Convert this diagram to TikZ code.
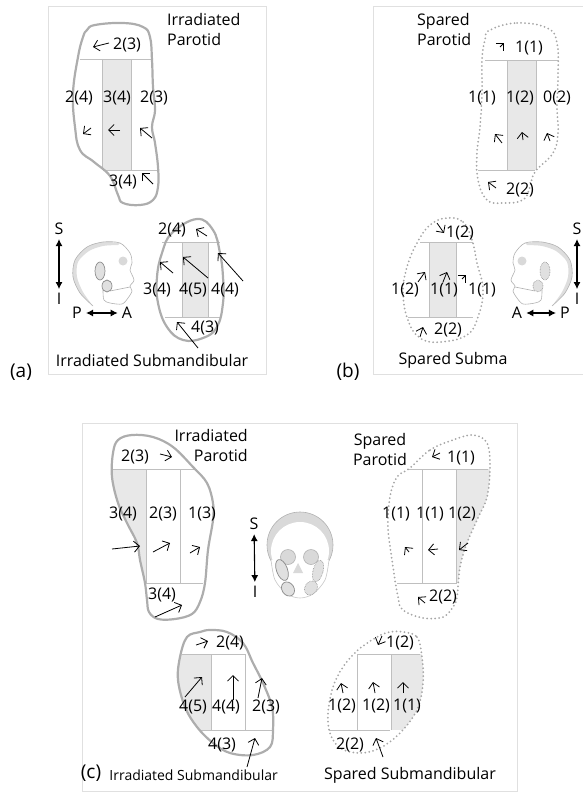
\documentclass[tikz,border=0pt]{standalone}
\usepackage{fontspec}
\setmainfont{Open Sans}
\usetikzlibrary{arrows.meta}

\tikzset{
  frame/.style={draw=black!12, line width=0.6pt},
  gland/.style={draw=black!32, line width=2.2pt},
  spared/.style={draw=black!35, line width=2pt, dash pattern=on 0pt off 4pt, line cap=round},
  grid/.style={draw=black!25, line width=0.9pt},
  shade/.style={fill=black!9},
  vec/.style={->, line width=0.8pt},
  axis/.style={{Latex[length=7pt,width=7pt]}-{Latex[length=7pt,width=7pt]}, line width=1.1pt, shorten >=3pt, shorten <=3pt},
  sgland/.style={draw=black!45, fill=black!12, line width=0.7pt},
  sspared/.style={draw=black!40, fill=black!12, line width=0.9pt, dash pattern=on 0pt off 1.6pt, line cap=round},
  bone/.style={draw=black!30, line width=0.6pt},
}

% skull seen from the side, facing right; #1 = style of the glands
\newcommand{\sideskull}[1]{%
  \fill[black!13] plot[smooth] coordinates {(93,306) (80,293) (73,277) (75,260) (87,247) (103,242) (120,243)}
    -- plot[smooth] coordinates {(118,245) (103,246) (89,251) (78,262) (77,277) (83,292) (93,306)} -- cycle;
  \draw[bone] plot[smooth] coordinates {(93,306) (80,293) (73,277) (75,260) (87,247) (103,242) (120,243) (130,253) (132,263) (130,270) (134,280) (130,286) (132,291) (128,298) (122,304) (110,303) (104,300) (103,290) (104,283)};
  \draw[bone] (110,291) -- (130,287);
  \fill[black!15] (123,261) circle (4.5);
  \draw[#1] (100,271) ellipse (5 and 9);
  \draw[#1] (107,286) ellipse (5 and 6);
}

% gland outlines
\def\aParotid{plot[smooth cycle, tension=0.7] coordinates {(87,30) (95,25) (123,23) (143,27) (150,37) (152,60) (153,87) (155,110) (152,127) (155,143) (158,167) (158,187) (153,200) (140,205) (123,203) (118,195) (110,176) (94,162) (80,150) (75,127) (73,93) (78,57) (83,37)}}
\def\aSubman{plot[smooth cycle, tension=0.7] coordinates {(197,219) (213,230) (220,253) (223,277) (223,303) (217,327) (203,338) (183,340) (167,327) (158,303) (157,277) (162,253) (172,233)}}
\def\bParotid{plot[smooth cycle, tension=0.7] coordinates {(490,30) (517,23) (547,28) (557,43) (558,77) (557,107) (558,133) (553,153) (535,172) (530,187) (523,200) (503,203) (487,200) (478,180) (477,153) (480,127) (482,93) (482,60) (485,40)}}
\def\bSubman{plot[smooth cycle, tension=0.7] coordinates {(447,218) (463,222) (472,240) (477,263) (483,290) (478,317) (467,335) (440,342) (420,338) (408,320) (403,293) (407,267) (417,243) (430,225)}}
\def\cParotid{plot[smooth cycle, tension=0.6] coordinates {(113,453) (118,440) (132,435) (153,437) (173,447) (193,467) (207,483) (213,503) (213,520) (208,550) (205,583) (200,602) (192,614) (175,619) (158,619) (149,612) (147,600) (145,583) (140,560) (137,543) (127,523) (118,503) (112,477)}}
\def\cSparedPar{plot[smooth cycle, tension=0.6] coordinates {(410,468) (430,450) (453,440) (473,435) (487,443) (490,467) (487,497) (477,520) (467,543) (460,567) (457,597) (453,607) (443,617) (423,618) (403,610) (398,597) (392,560) (388,527) (390,497) (397,477)}}
\def\cSubman{plot[smooth cycle, tension=0.6] coordinates {(200,632) (187,637) (180,657) (178,680) (185,707) (197,727) (213,743) (230,753) (253,755) (270,747) (273,730) (272,707) (263,683) (253,663) (243,643) (227,632) (210,630)}}
\def\cSparedSub{plot[smooth cycle, tension=0.6] coordinates {(403,632) (417,637) (422,657) (423,683) (417,710) (400,733) (380,748) (360,753) (340,748) (330,733) (328,713) (333,687) (343,667) (358,650) (377,637) (390,632)}}

\begin{document}
\begin{tikzpicture}[x=1pt, y=-1pt, >={Straight Barb[length=5.5pt,width=11pt]},
    font=\fontsize{16}{20}\selectfont, every node/.style={inner sep=1pt}]
\useasboundingbox (0,0) rectangle (582,792);

% panel frames and letters
\draw[frame] (48,6) rectangle (266,374);
\draw[frame] (373,6) rectangle (600,374);
\draw[frame] (82,423) rectangle (517,791);
\node[font=\fontsize{19}{20}\selectfont] (lab-a) at (21,372) {(a)};
\node[font=\fontsize{19}{20}\selectfont] (lab-b) at (348,372) {(b)};
\node[font=\fontsize{19}{20}\selectfont] (lab-c) at (91,773) {(c)};

%%% (a) irradiated side
\fill[shade] (102,59) rectangle (131,170);
\draw[grid] (80,59) -- (152,59) (103,170) -- (158,170) (102,59) -- (102,170) (131,59) -- (131,170);
\draw[gland] \aParotid;
\node (a-p0) at (127,45) {2(3)};
\node (a-p1) at (79,98) {2(4)};
\node (a-p2) at (117,98) {3(4)};
\node (a-p3) at (154,98) {2(3)};
\node (a-p4) at (123,182) {3(4)};
\node[align=left, anchor=north west] (a-par) at (166,12) {Irradiated\\Parotid};
\draw[vec] (109,43) -- (93,47);
\draw[vec] (91,128) -- (83,134);
\draw[vec] (120,130) -- (108,130);
\draw[vec] (152,138) -- (140,128);
\draw[vec] (153,184) -- (142,173);

\fill[shade] (182,242) rectangle (208,317);
\draw[grid] (162,242) -- (220,242) (165,317) -- (220,317) (182,242) -- (182,317) (208,242) -- (208,317);
\draw[gland] \aSubman;
\node (a-s0) at (172,230) {2(4)};
\node (a-s1) at (157,290) {3(4)};
\node (a-s2) at (193,290) {4(5)};
\node (a-s3) at (225,290) {4(4)};
\node (a-s4) at (205,328) {4(3)};
\draw[vec] (207,236) -- (196,229);
\draw[vec] (173,273) -- (160,262);
\draw[vec] (208,278) -- (183,257);
\draw[vec] (243,281) -- (218,253);
\draw[vec] (198,348) -- (177,322);
\node (a-sub) at (152,360) {Irradiated Submandibular};

\sideskull{sgland}
\node (a-S) at (59,229) {S};
\node (a-I) at (59,299) {I};
\draw[axis] (a-S) -- (a-I);
\node (a-P) at (77,313) {P};
\node (a-A) at (127,313) {A};
\draw[axis] (a-P) -- (a-A);

%%% (b) spared side
\fill[shade] (507,60) rectangle (536,170);
\draw[grid] (485,60) -- (558,60) (478,170) -- (535,170) (507,60) -- (507,170) (536,60) -- (536,170);
\draw[spared] \bParotid;
\node[align=left, anchor=north west] (b-par) at (416,12) {Spared\\Parotid};
\node (b-p0) at (529,48) {1(1)};
\node (b-p1) at (482,98) {1(1)};
\node (b-p2) at (520,98) {1(2)};
\node (b-p3) at (557,98) {0(2)};
\node (b-p4) at (520,190) {2(2)};
\draw[vec] (500,47) -- (504,43);
\draw[vec] (502,143) -- (495,134);
\draw[vec] (523,140) -- (522,132);
\draw[vec] (550,141) -- (547,133);
\draw[vec] (496,188) -- (488,182);

\fill[shade] (429,242) rectangle (456,317);
\draw[grid] (420,242) -- (473,242) (408,317) -- (473,317) (429,242) -- (429,317) (456,242) -- (456,317);
\draw[spared] \bSubman;
\node (b-s0) at (460,233) {1(2)};
\node (b-s1) at (405,290) {1(2)};
\node (b-s2) at (444,290) {1(1)};
\node (b-s3) at (482,290) {1(1)};
\node (b-s4) at (448,330) {2(2)};
\draw[vec] (437,223) -- (444,233);
\draw[vec] (418,282) -- (425,272);
\draw[vec] (443,282) -- (447,272);
\draw[vec] (462,279) -- (466,275);
\draw[vec] (420,337) -- (423,327);
\node (b-sub) at (453,360) {Spared Subma};

\begin{scope}[shift={(645,0)}, xscale=-1]
  \sideskull{sspared}
\end{scope}
\node (b-S) at (577,229) {S};
\node (b-I) at (577,299) {I};
\draw[axis] (b-S) -- (b-I);
\node (b-A) at (517,313) {A};
\node (b-P) at (565,313) {P};
\draw[axis] (b-A) -- (b-P);

%%% (c) both sides, front view
\begin{scope}
  \clip \cParotid;
  \fill[shade] (100,469) rectangle (146,583);
\end{scope}
\draw[grid] (113,469) -- (197,469) (145,583) -- (203,583) (146,469) -- (146,583) (180,469) -- (180,583);
\draw[gland] \cParotid;
\node (c-p0) at (135,457) {2(3)};
\node (c-p1) at (123,514) {3(4)};
\node (c-p2) at (163,514) {2(3)};
\node (c-p3) at (202,514) {1(3)};
\node (c-p4) at (162,595) {3(4)};
\node[align=right, anchor=north east] (c-par) at (249,428) {Irradiated\\Parotid};
\draw[vec] (160,454) -- (172,457);
\draw[vec] (112,549) -- (140,546);
\draw[vec] (153,552) -- (170,543);
\draw[vec] (190,553) -- (200,547);
\draw[vec] (155,617) -- (182,605);

\begin{scope}
  \clip \cSparedPar;
  \fill[shade] (456,469) rectangle (500,583);
\end{scope}
\draw[grid] (407,469) -- (488,469) (397,583) -- (457,583) (422,469) -- (422,583) (456,469) -- (456,583);
\draw[spared] \cSparedPar;
\node[align=center] (c-spar) at (380,449) {Spared\\Parotid};
\node (c-q0) at (461,458) {1(1)};
\node (c-q1) at (396,514) {1(1)};
\node (c-q2) at (430,514) {1(1)};
\node (c-q3) at (462,514) {1(2)};
\node (c-q4) at (443,597) {2(2)};
\draw[vec] (440,453) -- (432,457);
\draw[vec] (409,552) -- (405,547);
\draw[vec] (438,549) -- (428,550);
\draw[vec] (468,543) -- (459,550);
\draw[vec] (425,603) -- (418,597);

\begin{scope}
  \clip \cSubman;
  \fill[shade] (170,654) rectangle (211,730);
\end{scope}
\draw[grid] (182,654) -- (245,654) (200,730) -- (272,730) (211,654) -- (211,730) (245,654) -- (245,730);
\draw[gland] \cSubman;
\node (c-s0) at (230,643) {2(4)};
\node (c-s1) at (193,707) {4(5)};
\node (c-s2) at (226,707) {4(4)};
\node (c-s3) at (266,707) {2(3)};
\node (c-s4) at (222,745) {4(3)};
\draw[vec] (196,645) -- (208,641);
\draw[vec] (185,697) -- (202,677);
\draw[vec] (233,700) -- (233,675);
\draw[vec] (258,698) -- (262,678);
\draw[vec] (247,767) -- (255,738);
\node[anchor=east, font=\fontsize{14}{16}\selectfont] (c-sub) at (279,775) {Irradiated Submandibular};

\begin{scope}
  \clip \cSparedSub;
  \fill[shade] (391,654) rectangle (430,730);
\end{scope}
\draw[grid] (357,654) -- (420,654) (329,730) -- (390,730) (357,654) -- (357,730) (391,654) -- (391,730);
\draw[spared] \cSparedSub;
\node (c-t0) at (400,643) {1(2)};
\node (c-t1) at (342,706) {1(2)};
\node (c-t2) at (376,706) {1(2)};
\node (c-t3) at (407,706) {1(1)};
\node (c-t4) at (350,745) {2(2)};
\draw[vec] (382,636) -- (378,645);
\draw[vec] (343,693) -- (341,683);
\draw[vec] (375,693) -- (373,682);
\draw[vec] (403,693) -- (403,682);
\draw[vec] (383,757) -- (376,738);
\node (c-ssub) at (410,775) {Spared Submandibular};

% front skull
\fill[black!15] (300,545) circle (33);
\fill[white] (300,551) circle (29);
\draw[bone] (300,545) circle (33);
\draw[black!22, line width=0.6pt, fill=white] plot[smooth] coordinates {(271,560) (275,580) (287,594) (300,598) (313,594) (325,580) (329,560)};
\draw[bone, fill=black!15] (288,557) circle (7.5) (311,557) circle (7.5);
\fill[black!15] (298,563) -- (293,573) -- (303,573) -- cycle;
\draw[sgland, rotate around={20:(282,570)}] (282,570) ellipse (5.5 and 11);
\draw[sgland, rotate around={35:(288,589)}] (288,589) ellipse (6 and 7.5);
\draw[sspared, rotate around={-15:(318,571)}] (318,571) ellipse (5 and 11);
\draw[sspared, rotate around={-35:(311,588)}] (311,588) ellipse (6 and 7.5);
\node (c-S) at (254,524) {S};
\node (c-I) at (255,592) {I};
\draw[axis] (c-S) -- (c-I);
\end{tikzpicture}
\end{document}
